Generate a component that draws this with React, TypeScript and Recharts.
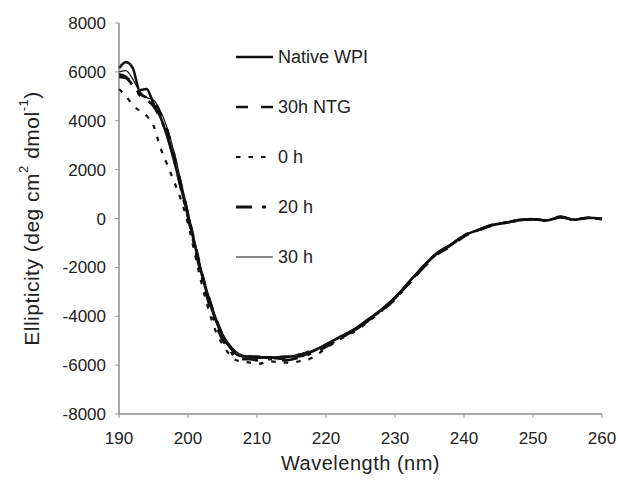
import { LineChart, Line, XAxis, YAxis, Legend, Label } from 'recharts';

const wavelength = [
  190, 191, 192, 193, 194, 195, 196, 197, 198, 199, 200, 201, 202, 203, 204, 205, 206, 207, 208, 209, 210,
  212, 214, 216, 218, 220, 222, 224, 226, 228, 230, 232, 234, 236, 238, 240, 242, 244, 246, 248, 250, 252, 254, 256, 258, 260,
];

const nativeWpi = [
  6150, 6400, 6150, 5250, 5300, 4700, 4150, 3350, 2350, 1250, 100, -1100, -2300, -3300, -4150, -4800, -5250, -5550, -5650, -5650, -5700,
  -5700, -5650, -5650, -5450, -5150, -4850, -4550, -4150, -3750, -3250, -2600, -2000, -1450, -1100, -700, -480, -280, -170, -70, -30, -80, 60, -50, 30, -20,
];

const ntg30 = [
  5900, 5800, 5500, 5100, 4950, 4800, 4300, 3600, 2600, 1400, 200, -1000, -2200, -3200, -4050, -4750, -5200, -5500, -5600, -5650, -5650,
  -5700, -5750, -5600, -5400, -5200, -4900, -4600, -4200, -3800, -3300, -2650, -2050, -1500, -1150, -740, -500, -300, -180, -80, -40, -60, 40, -30, 20, -10,
];

const h0 = [
  5300, 5000, 4650, 4400, 4200, 3800, 2900, 2200, 1500, 750, -200, -1450, -2700, -3750, -4600, -5150, -5550, -5800, -5850, -5900, -5950,
  -5850, -5900, -5850, -5700, -5300, -4950, -4650, -4250, -3800, -3300, -2700, -2050, -1450, -1100, -720, -490, -290, -160, -60, -20, -70, 70, -40, 40, -10,
];

const h20 = [
  5800, 5750, 5450, 5050, 4850, 4600, 4100, 3400, 2400, 1200, 50, -1200, -2400, -3450, -4300, -4950, -5350, -5700, -5750, -5750, -5800,
  -5750, -5800, -5700, -5500, -5250, -4900, -4600, -4200, -3750, -3250, -2650, -2000, -1450, -1100, -700, -470, -270, -170, -60, -30, -90, 80, -60, 30, -30,
];

const h30 = [
  6000, 6050, 5700, 5200, 4950, 4850, 4400, 3700, 2700, 1500, 300, -950, -2150, -3150, -4000, -4700, -5150, -5450, -5600, -5650, -5650,
  -5650, -5700, -5550, -5400, -5150, -4850, -4550, -4150, -3700, -3200, -2600, -1950, -1400, -1050, -680, -460, -260, -160, -70, -20, -70, 70, -50, 40, -20,
];

const xTicks = [190, 200, 210, 220, 230, 240, 250, 260];
const yTicks = [-8000, -6000, -4000, -2000, 0, 2000, 4000, 6000, 8000];

const data = wavelength.map((nm, i) => ({
  nm,
  native: nativeWpi[i],
  ntg: ntg30[i],
  h0: h0[i],
  h20: h20[i],
  h30: h30[i],
}));

const FONT = "'Liberation Sans', Arial, sans-serif";
const INK = '#111';

const series = [
  { key: 'native', name: 'Native WPI', width: 2.6, dash: undefined },
  { key: 'ntg', name: '30h NTG', width: 2.6, dash: '12 13' },
  { key: 'h0', name: '0 h', width: 2.2, dash: '4.5 8' },
  { key: 'h20', name: '20 h', width: 2.8, dash: '16 10 4 10' },
  { key: 'h30', name: '30 h', width: 1.2, dash: undefined },
];

function renderLegend() {
  return (
    <div style={{ fontFamily: FONT, fontSize: 18, color: '#222' }}>
      {series.map((s) => (
        <div key={s.key} style={{ height: 50, display: 'flex', alignItems: 'center' }}>
          <svg width={37} height={6} style={{ display: 'block' }}>
            <line x1={0} y1={3} x2={37} y2={3} stroke={INK} strokeWidth={s.width} strokeDasharray={s.dash} />
          </svg>
          <span style={{ marginLeft: 5 }}>{s.name}</span>
        </div>
      ))}
    </div>
  );
}

function YTitle(props: any) {
  const vb = props.viewBox;
  const cx = vb.x + 31;
  const cy = vb.y + vb.height / 2;
  return (
    <text
      x={cx}
      y={cy}
      transform={`rotate(-90, ${cx}, ${cy})`}
      textAnchor="middle"
      dominantBaseline="central"
      fontFamily={FONT}
      fontSize={21}
      letterSpacing={0.5}
      fill="#222"
    >
      Ellipticity (deg cm
      <tspan dy={-8} fontSize={13}>2</tspan>
      <tspan dy={8}> dmol</tspan>
      <tspan dy={-8} fontSize={13}>-1</tspan>
      <tspan dy={8}>)</tspan>
    </text>
  );
}

function XTitle(props: any) {
  const vb = props.viewBox;
  return (
    <text
      x={vb.x + vb.width / 2}
      y={vb.y + 56}
      textAnchor="middle"
      fontFamily={FONT}
      fontSize={20}
      letterSpacing={0.5}
      fill="#222"
    >
      Wavelength (nm)
    </text>
  );
}

export default function App() {
  const tickStyle = { fontSize: 17, fontFamily: FONT, fill: '#222' };
  return (
    <div style={{ position: 'absolute', left: 0, top: 0 }}>
      <LineChart width={618} height={482} data={data} margin={{ top: 23, right: 16, left: 0, bottom: 0 }}>
        <XAxis
          dataKey="nm"
          type="number"
          domain={[190, 260]}
          ticks={xTicks}
          height={68}
          tick={tickStyle}
          tickSize={4}
          tickMargin={14}
          axisLine={{ stroke: '#555' }}
          tickLine={{ stroke: '#999' }}
        >
          <Label content={XTitle} />
        </XAxis>
        <XAxis
          xAxisId="top"
          orientation="top"
          dataKey="nm"
          type="number"
          domain={[190, 260]}
          height={0}
          tick={false}
          tickLine={false}
          axisLine={{ stroke: '#555' }}
        />
        <YAxis
          type="number"
          domain={[-8000, 8000]}
          ticks={yTicks}
          width={119}
          tick={tickStyle}
          tickSize={4}
          tickMargin={9}
          axisLine={{ stroke: '#555' }}
          tickLine={{ stroke: '#999' }}
        >
          <Label content={YTitle} />
        </YAxis>
        <YAxis
          yAxisId="right"
          orientation="right"
          type="number"
          domain={[-8000, 8000]}
          width={0}
          tick={false}
          tickLine={false}
          axisLine={{ stroke: '#555' }}
        />
        <Legend
          layout="vertical"
          align="center"
          verticalAlign="middle"
          content={renderLegend}
          wrapperStyle={{ left: 236, top: 32, width: 220 }}
        />
        {series.map((s) => (
          <Line
            key={s.key}
            dataKey={s.key}
            name={s.name}
            type="monotone"
            stroke={INK}
            strokeWidth={s.width}
            strokeDasharray={s.dash}
            dot={false}
            activeDot={false}
            isAnimationActive={false}
          />
        ))}
      </LineChart>
    </div>
  );
}
